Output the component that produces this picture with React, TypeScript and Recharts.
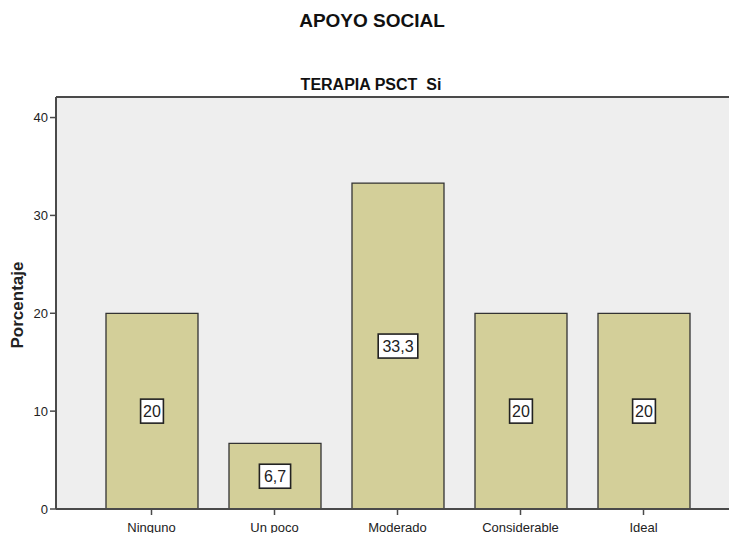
import { BarChart, Bar, XAxis, YAxis, CartesianGrid, ReferenceLine, LabelList } from "recharts";

const categories = ["Ninguno", "Un poco", "Moderado", "Considerable", "Ideal"];
const percentages = [20, 6.7, 33.3, 20, 20];
const yTicks = [0, 10, 20, 30, 40];

const chartData = categories.map((name, i) => ({ name, value: percentages[i] }));

const FONT = "'Liberation Sans', Arial, sans-serif";
const AXIS = "#4a4a4a";

// white boxed value label in the middle of each bar
const ValueBox = (props: any) => {
  const { x, y, width, height, value } = props;
  const text = String(value).replace(".", ",");
  const cx = x + width / 2;
  const cy = y + height / 2;
  const w = text.length * 8.4 + 6;
  const h = 24;
  return (
    <g>
      <rect x={cx - w / 2} y={cy - h / 2} width={w} height={h} fill="#fff" stroke="#222" strokeWidth={1.6} />
      <text x={cx} y={cy + 6} textAnchor="middle" fontFamily={FONT} fontSize={16} fill="#222">
        {text}
      </text>
    </g>
  );
};

const YTitle = () => (
  <text
    x={23}
    y={305}
    transform="rotate(-90 23 305)"
    textAnchor="middle"
    fontFamily={FONT}
    fontSize={17}
    fontWeight="bold"
    fill="#222"
  >
    Porcentaje
  </text>
);

export default function App() {
  return (
    <div style={{ position: "absolute", left: 0, top: 0, width: 729, height: 533, overflow: "hidden", background: "#fff" }}>
      <div style={{ position: "absolute", left: 0, width: 744, top: 10, textAlign: "center", fontFamily: FONT, fontWeight: "bold", fontSize: 19, color: "#111" }}>
        APOYO SOCIAL
      </div>
      <div style={{ position: "absolute", left: 0, width: 742, top: 76, textAlign: "center", fontFamily: FONT, fontWeight: "bold", fontSize: 16, color: "#111", whiteSpace: "pre" }}>
        {"TERAPIA PSCT  Si"}
      </div>
      <BarChart
        width={760}
        height={560}
        data={chartData}
        margin={{ top: 97, right: 21, bottom: 21, left: 0 }}
        style={{ position: "absolute", left: 0, top: 0 }}
      >
        <CartesianGrid fill="#eeeeee" horizontal={false} vertical={false} />
        <XAxis
          dataKey="name"
          padding={{ left: 34, right: 34 }}
          height={30}
          axisLine={{ stroke: AXIS, strokeWidth: 2 }}
          tickLine={{ stroke: AXIS, strokeWidth: 1.5 }}
          tickSize={6}
          tickMargin={8}
          tick={{ fontSize: 13, fill: "#222", fontFamily: FONT }}
          interval={0}
        />
        <YAxis
          width={56}
          domain={[0, 42.1]}
          ticks={yTicks}
          allowDataOverflow
          axisLine={{ stroke: AXIS, strokeWidth: 2 }}
          tickLine={{ stroke: AXIS, strokeWidth: 1.5 }}
          tickSize={6}
          tick={{ fontSize: 13, fill: "#222", fontFamily: FONT }}
          label={<YTitle />}
        />
        <ReferenceLine y={42.1} stroke={AXIS} strokeWidth={2} />
        <Bar dataKey="value" barSize={92} fill="#d3cf99" stroke="#333" strokeWidth={1.3} isAnimationActive={false}>
          <LabelList dataKey="value" content={ValueBox} />
        </Bar>
      </BarChart>
    </div>
  );
}
